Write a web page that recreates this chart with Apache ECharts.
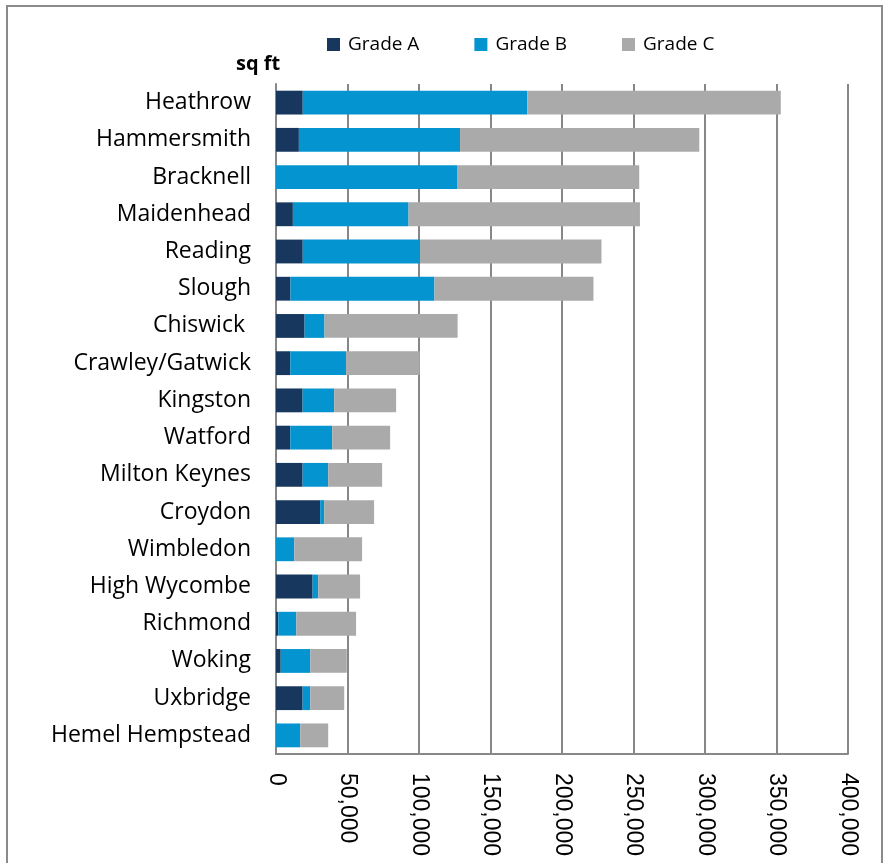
<!DOCTYPE html>
<html>
<head>
<meta charset="utf-8">
<script src="https://cdn.jsdelivr.net/npm/echarts@6/dist/echarts.min.js"></script>
<style>
  html, body { margin: 0; padding: 0; background: #fff; }
  #chart { width: 885px; height: 863px; }
</style>
</head>
<body>
<div id="chart"></div>
<script>
// 办公楼存量（按等级）
const locations = ['Heathrow', 'Hammersmith', 'Bracknell', 'Maidenhead', 'Reading', 'Slough',
  'Chiswick ', 'Crawley/Gatwick', 'Kingston', 'Watford', 'Milton Keynes', 'Croydon',
  'Wimbledon', 'High Wycombe', 'Richmond', 'Woking', 'Uxbridge', 'Hemel Hempstead']
const gradeA = [18700, 16000, 0, 11800, 18700, 10100, 20000, 10000, 18600, 10000, 18600, 30900,
  0, 25600, 1600, 3300, 18600, 0]
const gradeB = [157000, 112700, 127000, 80900, 82000, 100700, 13900, 39000, 22100, 29300, 17900, 2800,
  12800, 3900, 12600, 20700, 5400, 17000]
const gradeC = [177300, 167300, 127000, 161800, 126900, 111200, 93100, 51500, 43300, 40500, 37700, 34900,
  47400, 29300, 41800, 25500, 23700, 19500]
const xTicks = [0, 50000, 100000, 150000, 200000, 250000, 300000, 350000, 400000]

const chart = echarts.init(document.getElementById('chart'))
const lineGray = '#878787'
const catFont = "'Open Sans', sans-serif"

const option = {
  animation: false,
  // 外框
  graphic: [
    {
      type: 'rect',
      shape: { x: 7, y: 6, width: 875, height: 900 },
      style: { fill: 'none', stroke: '#8a8a8a', lineWidth: 2 },
      silent: true
    }
  ],
  title: {
    text: 'sq ft',
    left: 236,
    top: 54,
    padding: 0,
    textStyle: { fontFamily: catFont, fontWeight: 'bold', fontSize: 20, color: '#000' }
  },
  legend: {
    data: ['Grade A', 'Grade B', 'Grade C'],
    left: 327,
    top: 35,
    padding: 0,
    itemWidth: 13,
    itemHeight: 13,
    itemGap: 55,
    icon: 'rect',
    textStyle: { fontFamily: catFont, fontSize: 19, color: '#000', padding: [0, 0, 0, 3] }
  },
  grid: {
    left: 276,
    right: 37,
    top: 84,
    bottom: 109,
    containLabel: false
  },
  xAxis: {
    type: 'value',
    min: xTicks[0],
    max: xTicks[xTicks.length - 1],
    interval: 50000,
    axisLine: { show: true, lineStyle: { color: lineGray, width: 2 } },
    axisTick: { show: false },
    splitLine: { show: true, lineStyle: { color: lineGray, width: 2 } },
    axisLabel: {
      rotate: -90,
      margin: 19,
      fontFamily: "'Liberation Sans', Arial, sans-serif",
      fontSize: 23,
      color: '#000',
      formatter: v => v.toLocaleString('en-US')
    }
  },
  yAxis: {
    type: 'category',
    inverse: true,
    data: locations,
    axisLine: { show: true, lineStyle: { color: lineGray, width: 2 } },
    axisTick: { show: false },
    axisLabel: {
      margin: 25,
      fontFamily: catFont,
      fontSize: 23,
      color: '#000'
    }
  },
  series: [
    { name: 'Grade A', type: 'bar', stack: 'total', data: gradeA, barCategoryGap: '36%', itemStyle: { color: '#17375E' } },
    { name: 'Grade B', type: 'bar', stack: 'total', data: gradeB, itemStyle: { color: '#0494D0' } },
    { name: 'Grade C', type: 'bar', stack: 'total', data: gradeC, itemStyle: { color: '#AAAAAA' } }
  ]
}
chart.setOption(option)
</script>
</body>
</html>
